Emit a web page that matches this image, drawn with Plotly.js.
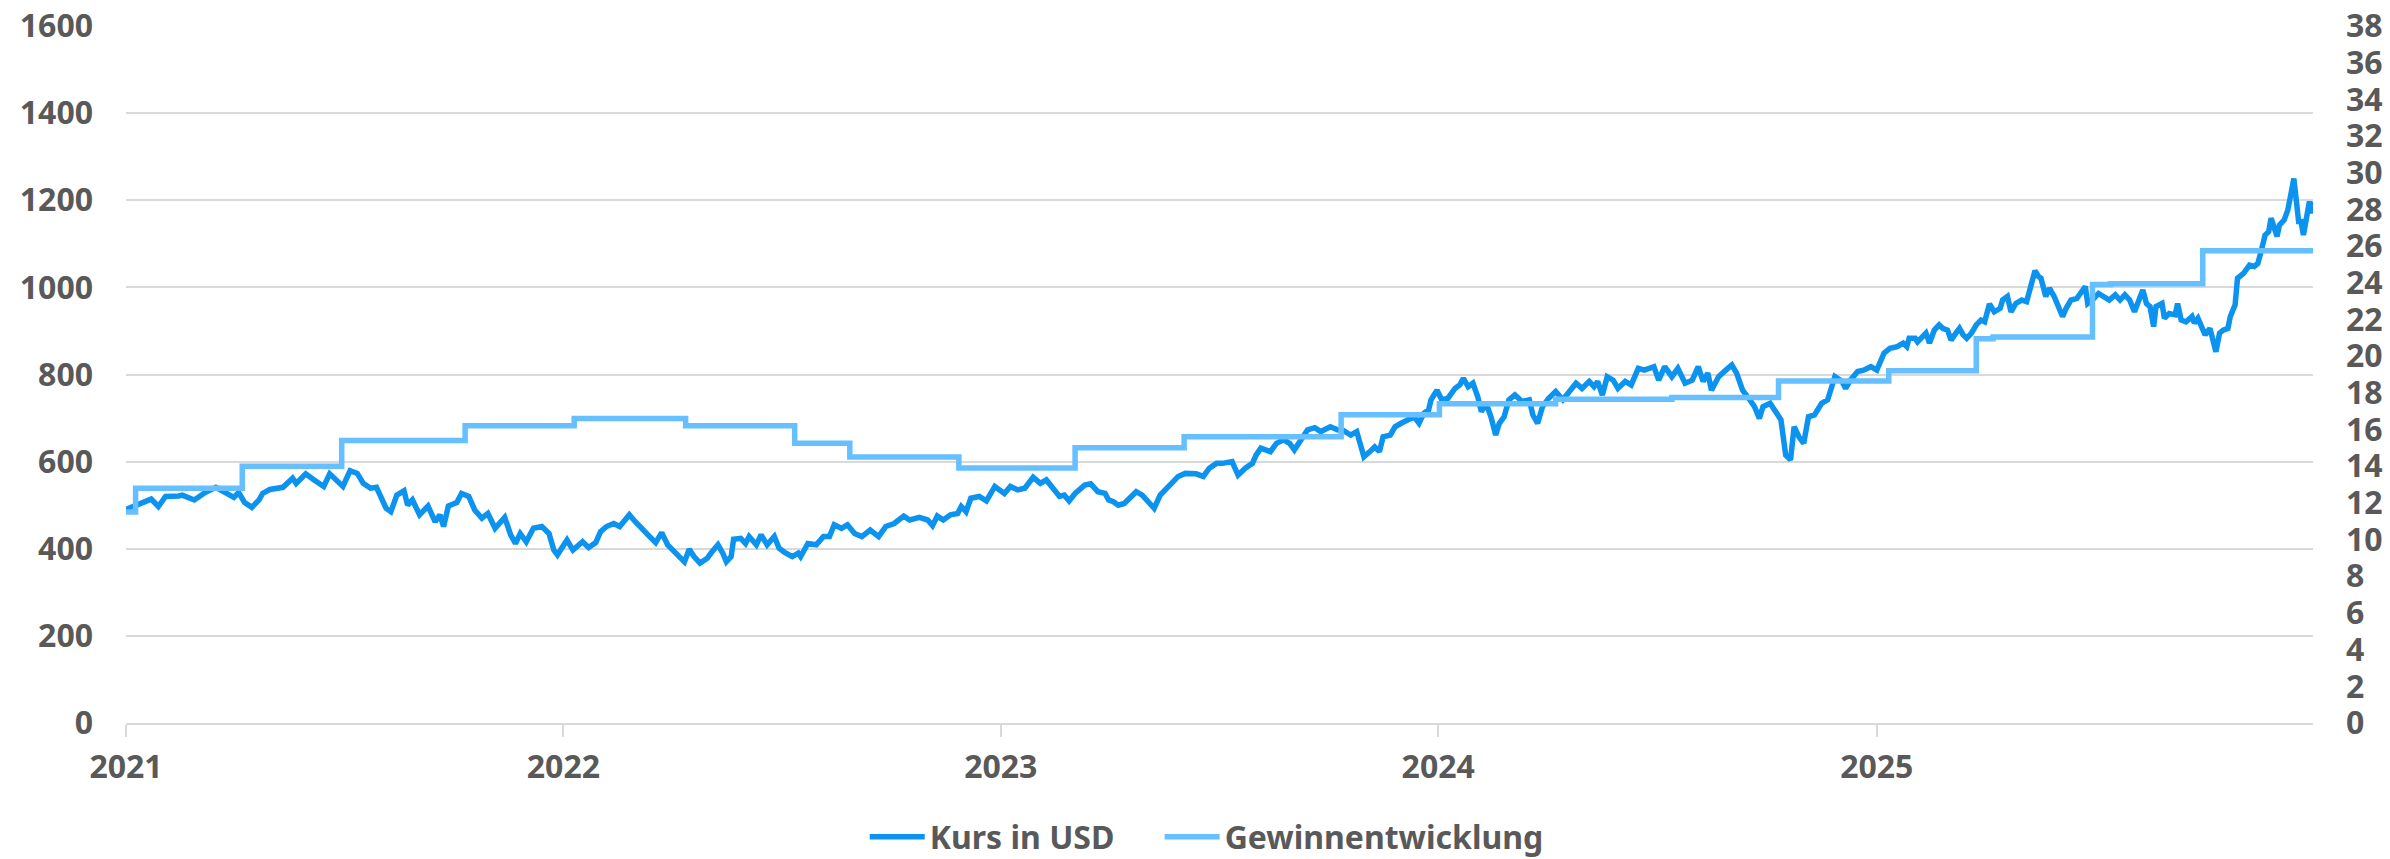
<!DOCTYPE html>
<html>
<head>
<meta charset="utf-8">
<script src="https://cdn.plot.ly/plotly-3.0.1.min.js"></script>
<style>html,body{margin:0;padding:0;background:#fff;}#chart{width:2390px;height:859px;}</style>
</head>
<body>
<div id="chart"></div>
<script>
// Kurs in USD (left axis)
var kursDates = [
'2021-01-01','2021-01-07','2021-01-15','2021-01-22','2021-01-28','2021-02-03','2021-02-14','2021-02-17','2021-02-27','2021-03-08',
'2021-03-17','2021-03-25','2021-04-01','2021-04-05','2021-04-10','2021-04-16','2021-04-22','2021-04-25','2021-05-01','2021-05-12',
'2021-05-20','2021-05-23','2021-05-31','2021-06-07','2021-06-15','2021-06-20','2021-06-26','2021-07-01','2021-07-07','2021-07-13',
'2021-07-18','2021-07-24','2021-07-29','2021-08-06','2021-08-10','2021-08-15','2021-08-21','2021-08-24','2021-08-28','2021-09-03',
'2021-09-10','2021-09-16','2021-09-20','2021-09-23','2021-09-27','2021-10-04','2021-10-08','2021-10-14','2021-10-19','2021-10-25',
'2021-10-30','2021-11-05','2021-11-13','2021-11-18','2021-11-22','2021-11-26','2021-12-01','2021-12-07','2021-12-14','2021-12-20',
'2021-12-24','2021-12-27','2022-01-04','2022-01-09','2022-01-17','2022-01-22','2022-01-28','2022-02-01','2022-02-06','2022-02-12',
'2022-02-17','2022-02-25','2022-03-02','2022-03-08','2022-03-14','2022-03-19','2022-03-24','2022-03-29','2022-04-05','2022-04-12',
'2022-04-16','2022-04-20','2022-04-25','2022-05-01','2022-05-05','2022-05-10','2022-05-14','2022-05-17','2022-05-21','2022-05-23',
'2022-05-29','2022-06-02','2022-06-05','2022-06-11','2022-06-15','2022-06-20','2022-06-26','2022-06-30','2022-07-05','2022-07-11',
'2022-07-16','2022-07-18','2022-07-24','2022-07-31','2022-08-06','2022-08-11','2022-08-15','2022-08-21','2022-08-26','2022-09-01',
'2022-09-07','2022-09-14','2022-09-21','2022-09-27','2022-10-04','2022-10-12','2022-10-17','2022-10-25','2022-11-01','2022-11-05',
'2022-11-09','2022-11-14','2022-11-20','2022-11-26','2022-11-29','2022-12-03','2022-12-07','2022-12-14','2022-12-20','2022-12-27',
'2023-01-04','2023-01-09','2023-01-15','2023-01-21','2023-01-28','2023-02-03','2023-02-08','2023-02-14','2023-02-19','2023-02-23',
'2023-02-27','2023-03-04','2023-03-12','2023-03-17','2023-03-23','2023-03-29','2023-04-01','2023-04-05','2023-04-09','2023-04-14',
'2023-04-20','2023-04-24','2023-04-29','2023-05-05','2023-05-09','2023-05-14','2023-05-20','2023-05-25','2023-05-29','2023-06-04',
'2023-06-13','2023-06-19','2023-06-24','2023-06-30','2023-07-05','2023-07-13','2023-07-18','2023-07-24','2023-07-30','2023-08-02',
'2023-08-06','2023-08-14','2023-08-19','2023-08-25','2023-08-30','2023-09-03','2023-09-09','2023-09-14','2023-09-20','2023-09-25',
'2023-10-03','2023-10-09','2023-10-14','2023-10-20','2023-10-25','2023-10-31','2023-11-05','2023-11-09','2023-11-13','2023-11-16',
'2023-11-22','2023-11-26','2023-12-01','2023-12-07','2023-12-12','2023-12-16','2023-12-20','2023-12-24','2023-12-26','2023-12-31',
'2024-01-04','2024-01-09','2024-01-15','2024-01-19','2024-01-22','2024-01-26','2024-01-30','2024-02-03','2024-02-06','2024-02-10',
'2024-02-14','2024-02-18','2024-02-21','2024-02-25','2024-02-29','2024-03-05','2024-03-11','2024-03-17','2024-03-20','2024-03-24',
'2024-03-28','2024-04-02','2024-04-08','2024-04-14','2024-04-19','2024-04-25','2024-04-30','2024-05-06','2024-05-10','2024-05-13',
'2024-05-17','2024-05-21','2024-05-26','2024-05-30','2024-06-05','2024-06-10','2024-06-16','2024-06-21','2024-06-29','2024-07-03',
'2024-07-08','2024-07-14','2024-07-19','2024-07-25','2024-07-31','2024-08-05','2024-08-09','2024-08-13','2024-08-16','2024-08-22',
'2024-08-28','2024-09-02','2024-09-06','2024-09-11','2024-09-17','2024-09-21','2024-09-25','2024-09-28','2024-10-04','2024-10-09',
'2024-10-13','2024-10-17','2024-10-21','2024-10-24','2024-10-28','2024-11-01','2024-11-05','2024-11-10','2024-11-16','2024-11-21',
'2024-11-27','2024-12-03','2024-12-06','2024-12-10','2024-12-16','2024-12-21','2024-12-27','2025-01-01','2025-01-07','2025-01-12',
'2025-01-18','2025-01-23','2025-01-26','2025-01-28','2025-02-02','2025-02-04','2025-02-09','2025-02-11','2025-02-14','2025-02-18',
'2025-02-22','2025-02-25','2025-03-01','2025-03-04','2025-03-08','2025-03-11','2025-03-14','2025-03-17','2025-03-21','2025-03-25',
'2025-03-29','2025-04-01','2025-04-05','2025-04-09','2025-04-14','2025-04-16','2025-04-20','2025-04-23','2025-04-27','2025-05-02',
'2025-05-06','2025-05-10','2025-05-13','2025-05-16','2025-05-18','2025-05-22','2025-05-25','2025-05-29','2025-06-01','2025-06-05',
'2025-06-08','2025-06-12','2025-06-17','2025-06-21','2025-06-24','2025-06-26','2025-06-30','2025-07-05','2025-07-10','2025-07-14',
'2025-07-19','2025-07-23','2025-07-27','2025-07-31','2025-08-04','2025-08-08','2025-08-11','2025-08-14','2025-08-17','2025-08-20',
'2025-08-22','2025-08-27','2025-08-29','2025-09-02','2025-09-07','2025-09-09','2025-09-12','2025-09-16','2025-09-21','2025-09-23',
'2025-09-26','2025-09-29','2025-10-02','2025-10-06','2025-10-09','2025-10-11','2025-10-14','2025-10-17','2025-10-21','2025-10-23',
'2025-10-27','2025-10-29','2025-11-03','2025-11-05','2025-11-08','2025-11-12','2025-11-15','2025-11-18','2025-11-21','2025-11-24',
'2025-11-26','2025-12-01','2025-12-03','2025-12-07','2025-12-10','2025-12-13','2025-12-15','2025-12-17','2025-12-19','2025-12-21',
'2025-12-23','2025-12-26','2025-12-28','2025-12-30','2025-12-31'
];
var kursValues = [
490,497,508,514,497,520,521,523,512,529,
541,529,518,529,506,495,512,527,536,541,
562,550,572,558,543,572,558,543,579,573,
550,539,541,493,485,523,533,500,512,478,
498,462,478,451,498,506,527,520,489,470,
481,447,472,432,412,435,416,447,451,435,
397,386,420,397,416,403,414,439,451,458,
451,478,462,447,428,414,437,409,390,370,
399,382,367,378,393,409,390,370,382,422,
424,412,428,409,432,409,428,401,391,382,
390,382,412,409,428,428,455,447,455,435,
428,443,428,451,458,475,466,472,466,453,
475,466,478,481,497,485,516,520,510,543,
527,543,535,539,564,550,558,535,520,523,
510,527,546,549,531,527,512,508,500,504,
523,531,523,504,493,523,539,554,566,573,
572,566,585,596,596,600,569,585,596,615,
631,623,642,650,642,627,654,673,678,669,
680,673,671,661,669,611,623,634,623,657,
661,680,688,696,703,688,711,719,742,764,
742,745,768,776,791,772,780,749,715,734,
703,661,688,703,742,753,738,742,707,688,
726,745,761,742,761,780,768,784,772,784,
753,795,787,768,784,776,814,810,818,787,
818,795,814,780,787,818,784,803,764,795,
810,822,803,764,742,726,699,726,734,711,
696,615,604,680,657,642,703,707,734,742,
795,784,768,787,807,810,818,810,849,860,
864,872,864,883,883,875,891,895,872,902,
914,906,902,879,895,906,891,883,895,914,
925,921,962,944,952,971,979,944,963,971,
967,1009,1038,1025,1021,979,998,979,956,933,
952,971,975,994,1002,963,971,986,979,971,
983,971,983,971,944,971,994,963,956,910,
956,963,929,940,937,963,925,921,933,918,
929,910,891,906,864,852,895,902,906,933,
960,1021,1032,1040,1051,1048,1055,1086,1120,1128,
1159,1117,1143,1155,1178,1220,1250,1201,1151,1151,
1120,1166,1197,1170,1197
];

// Gewinnentwicklung (right axis), step series
var gewinnDates = [
'2021-01-01','2021-01-09','2021-04-08','2021-06-30','2021-10-11','2022-01-10','2022-04-13','2022-07-13',
'2022-08-28','2022-11-27','2023-03-04','2023-06-03','2023-10-12','2024-01-02','2024-04-08','2024-07-14',
'2024-10-11','2025-01-11','2025-03-25','2025-04-08','2025-06-30','2025-07-15','2025-09-30','2025-12-31'
];
var gewinnValues = [
11.5,12.8,14.0,15.4,16.2,16.6,16.2,15.25,
14.5,13.9,15.0,15.6,16.8,17.4,17.65,17.75,
18.65,19.2,20.95,21.05,23.9,23.95,25.75,25.75
];

var leftTicks = [0,200,400,600,800,1000,1200,1400,1600];
var rightTicks = [0,2,4,6,8,10,12,14,16,18,20,22,24,26,28,30,32,34,36,38];

var textColor = '#595959';
var gridColor = '#d9d9d9';
var fontFam = 'Noto Sans, DejaVu Sans, sans-serif';
var legendFont = {family: fontFam, size: 32, color: textColor, weight: 700};

var traces = [
  {
    x: kursDates, y: kursValues, type: 'scatter', mode: 'lines', name: 'Kurs in USD',
    line: {color: '#0b93ef', width: 5.5, shape: 'linear'}, yaxis: 'y', hoverinfo: 'skip',
    legend: 'legend'
  },
  {
    x: gewinnDates, y: gewinnValues, type: 'scatter', mode: 'lines', name: 'Gewinnentwicklung',
    line: {color: '#66bfff', width: 5.5, shape: 'hv'}, yaxis: 'y2', hoverinfo: 'skip',
    legend: 'legend2'
  }
];

var layout = {
  width: 2390, height: 859,
  margin: {l: 126, r: 77, t: 26, b: 136, pad: 0},
  paper_bgcolor: '#ffffff', plot_bgcolor: '#ffffff',
  font: {family: fontFam, size: 32, color: textColor, weight: 700},
  showlegend: true,
  legend: {
    orientation: 'h', xref: 'container', yref: 'container',
    x: 0.3618, xanchor: 'left', y: 0.0256, yanchor: 'middle',
    font: legendFont, itemwidth: 55, bgcolor: 'rgba(0,0,0,0)'
  },
  legend2: {
    orientation: 'h', xref: 'container', yref: 'container',
    x: 0.4852, xanchor: 'left', y: 0.0256, yanchor: 'middle',
    font: legendFont, itemwidth: 55, bgcolor: 'rgba(0,0,0,0)'
  },
  xaxis: {
    type: 'date', range: ['2021-01-01', '2025-12-31'],
    tick0: '2021-01-01', dtick: 'M12', tickformat: '%Y',
    ticks: 'outside', ticklen: 12, tickwidth: 2, tickcolor: gridColor,
    showgrid: false, zeroline: false, showline: true, linecolor: gridColor, linewidth: 2,
    ticklabelstandoff: 3,
    tickfont: {family: fontFam, size: 32, color: textColor, weight: 700}
  },
  yaxis: {
    range: [0, 1600], tickmode: 'array', tickvals: leftTicks, ticktext: leftTicks.map(String),
    showgrid: true, gridcolor: gridColor, gridwidth: 2, zeroline: false, showline: false,
    ticks: '', ticklabelstandoff: 32,
    tickfont: {family: fontFam, size: 32, color: textColor, weight: 700}
  },
  yaxis2: {
    range: [0, 38], overlaying: 'y', side: 'right', tickmode: 'array', tickvals: rightTicks, ticktext: rightTicks.map(String),
    showgrid: false, zeroline: false, showline: false, ticks: '', ticklabelstandoff: 32,
    tickfont: {family: fontFam, size: 32, color: textColor, weight: 700}
  }
};

Plotly.newPlot('chart', traces, layout, {staticPlot: true, displayModeBar: false});
</script>
</body>
</html>
